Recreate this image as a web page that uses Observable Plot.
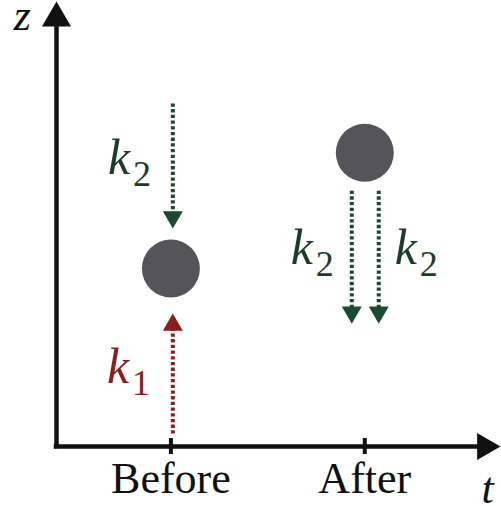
<!DOCTYPE html>
<html>
<head>
<meta charset="utf-8">
<script src="https://cdn.jsdelivr.net/npm/d3@7"></script>
<script src="https://cdn.jsdelivr.net/npm/@observablehq/plot@0.6"></script>
<style>
  html, body { margin: 0; padding: 0; background: #fff; }
  svg text { font-family: "Liberation Serif", "Times New Roman", "DejaVu Serif", serif !important; }
</style>
</head>
<body>
<div id="chart"></div>
<script>
// ---- data (t = time index, z = height) ----
const periods = ["Before", "After"];
const periodT = [1, 2];

// balls
const ballT = [1, 2];
const ballZ = [4.0, 6.6];

// dotted rate arrows: start and end of the dotted shaft, tip of the head
const arrowName  = ["k2 before", "k1 before", "k2 after left", "k2 after right"];
const arrowT     = [1.01, 1.01, 1.933, 2.072];
const arrowFrom  = [7.71, 0.29, 5.75, 5.75];
const arrowTo    = [5.24, 2.74, 3.12, 3.12];
const arrowTip   = [4.90, 2.99, 2.76, 2.76];
const arrowDir   = ["down", "up", "down", "down"];
const arrowKind  = ["k2", "k1", "k2", "k2"];

// rate labels
const labelT    = [0.675, 0.670, 1.618, 2.155];
const labelZ    = [6.13, 1.42, 4.11, 4.11];
const labelBase = ["k", "k", "k", "k"];
const labelSub  = ["2", "1", "2", "2"];
const labelKind = ["k2", "k1", "k2", "k2"];

// axes
const tMin = 0.41, tMax = 2.70, zMin = 0, zMax = 10;
const axisNames = ["z", "t"];
const axisNameT = [0.19, 2.602];
const axisNameZ = [9.36, -1.26];

const colors = {k1: "#8c1d1d", k2: "#1c4a30"};
const textColors = {k1: "#8a1f1f", k2: "#1b3d28"};

const arrows = arrowName.map((n, i) => ({
  name: n, t: arrowT[i], from: arrowFrom[i], to: arrowTo[i], tip: arrowTip[i],
  dir: arrowDir[i], kind: arrowKind[i]
}));
const balls = ballT.map((t, i) => ({t, z: ballZ[i]}));
const labels = labelT.map((t, i) => ({t, z: labelZ[i], base: labelBase[i], sub: labelSub[i], kind: labelKind[i]}));
const axisLabels = axisNames.map((s, i) => ({s, t: axisNameT[i], z: axisNameZ[i]}));

const serif = "Liberation Serif";

const chart = Plot.plot({
  width: 501,
  height: 506,
  marginLeft: 56,
  marginRight: 1,
  marginTop: 1,
  marginBottom: 60,
  style: {background: "#fff", fontFamily: serif, overflow: "visible"},
  x: {domain: [tMin, tMax], axis: null},
  y: {domain: [zMin, zMax], axis: null},
  marks: [
    // axis lines
    Plot.ruleY([zMin], {x1: tMin, x2: 2.62, stroke: "#111", strokeWidth: 4.5, strokeLinecap: "square"}),
    Plot.ruleX([tMin], {y1: zMin, y2: 9.5, stroke: "#111", strokeWidth: 4.5, strokeLinecap: "square"}),
    // axis arrowheads
    Plot.dot([{t: tMin, z: zMax}], {x: "t", y: "z", symbol: "triangle", r: 10.8, fill: "#111", stroke: "none", dy: 16.7}),
    Plot.dot([{t: tMax, z: zMin}], {x: "t", y: "z", symbol: "triangle", r: 10.0, fill: "#111", stroke: "none", rotate: 90, dx: -15.6}),
    // ticks at Before / After
    Plot.ruleX(periodT, {y1: -0.18, y2: 0.18, stroke: "#111", strokeWidth: 4}),
    // tick labels
    Plot.axisX(periodT, {
      tickFormat: (d) => periods[periodT.indexOf(d)],
      tickSize: 0, tickPadding: 15, fontSize: 44, fill: "#111",
      fontFamily: serif, label: null
    }),
    // axis names
    Plot.text(axisLabels, {x: "t", y: "z", text: "s", textAnchor: "start", lineAnchor: "bottom",
      fontSize: 44, fontStyle: "italic", fontFamily: serif, fill: "#111"}),
    // balls
    Plot.dot(balls, {x: "t", y: "z", r: 29, fill: "#54545a", stroke: "none"}),
    // dotted shafts
    Plot.link(arrows, {x1: "t", x2: "t", y1: "from", y2: "to",
      stroke: (d) => colors[d.kind], strokeWidth: 4, strokeDasharray: "3.3,2.4"}),
    // heads
    Plot.dot(arrows.filter(d => d.dir === "down"), {x: "t", y: "tip", symbol: "triangle", r: 7.4,
      rotate: 180, dy: -11.5, fill: (d) => colors[d.kind], stroke: "none"}),
    Plot.dot(arrows.filter(d => d.dir === "up"), {x: "t", y: "tip", symbol: "triangle", r: 7.4,
      dy: 11.5, fill: (d) => colors[d.kind], stroke: "none"}),
    // rate labels
    Plot.text(labels, {x: "t", y: "z", text: "base", textAnchor: "start", lineAnchor: "bottom",
      fontSize: 50, fontStyle: "italic", fontFamily: serif, fill: (d) => textColors[d.kind]}),
    Plot.text(labels, {x: "t", y: "z", text: "sub", textAnchor: "start", lineAnchor: "bottom",
      dx: 25, dy: 12, fontSize: 36, fontFamily: serif, fill: (d) => textColors[d.kind]})
  ]
});
document.getElementById("chart").appendChild(chart);
</script>
</body>
</html>
